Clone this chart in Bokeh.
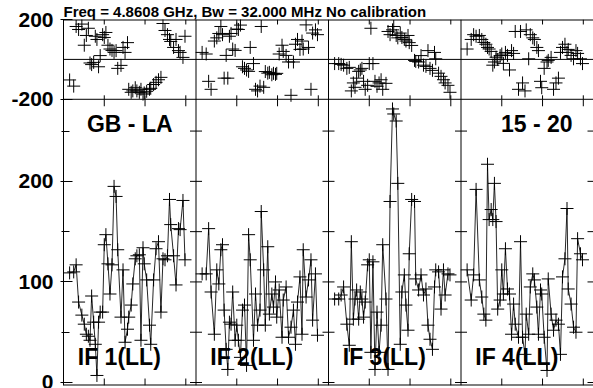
from bokeh.plotting import figure
from bokeh.models import Range1d, FixedTicker, Span, Label
from bokeh.embed import file_html
from bokeh.resources import INLINE

# ---------------- data ----------------
title_text = "Freq = 4.8608 GHz, Bw = 32.000 MHz   No calibration"
baseline_label = "GB - LA"
time_range_label = "15 - 20"
if_labels = ["IF 1(LL)", "IF 2(LL)", "IF 3(LL)", "IF 4(LL)"]

# observation times (hours) shared by all IFs
time_h = [0.15, 0.25, 0.31, 0.37, 0.45, 0.51, 0.56, 0.61, 0.65, 0.69, 0.74, 0.78,
          0.82, 0.86, 0.90, 0.96, 1.00, 1.04, 1.09, 1.14, 1.19, 1.24, 1.29, 1.33,
          1.41, 1.46, 1.51, 1.57, 1.60, 1.66, 1.70, 1.76, 1.80, 1.86, 1.90, 1.95,
          1.98, 2.04, 2.11, 2.14, 2.21, 2.27, 2.33, 2.39, 2.44, 2.49, 2.55, 2.60,
          2.63, 2.70, 2.76, 2.82, 2.86, 2.93, 2.98]

amp_if1 = [109, 110, 117, 80, 67, 58, 48, 46, 42, 86, 60, 38, 7, 60, 70, 70, 137, 147,
           118, 88, 117, 195, 185, 132, 65, 112, 40, 53, 65, 77, 98, 123, 126, 127, 42,
           134, 118, 102, 57, 38, 102, 133, 140, 70, 123, 122, 126, 182, 157, 126, 97,
           153, 152, 181, 122]
amp_if2 = [108, 108, 153, 90, 48, 112, 98, 132, 137, 72, 33, 13, 60, 58, 90, 42, 57, 42,
           25, 72, 77, 17, 147, 122, 42, 88, 57, 72, 170, 112, 57, 135, 68, 88, 75, 100,
           65, 92, 45, 82, 95, 45, 55, 72, 38, 80, 105, 48, 132, 85, 102, 122, 62, 108, 47]
amp_if3 = [83, 83, 87, 95, 58, 37, 140, 63, 83, 92, 63, 90, 83, 65, 80, 117, 122, 30,
           120, 13, 70, 30, 57, 137, 83, 13, 180, 272, 267, 260, 198, 38, 90, 107, 77, 52,
           128, 182, 180, 103, 92, 107, 87, 93, 57, 43, 33, 95, 112, 110, 73, 112, 87, 108, 107]
amp_if4 = [112, 82, 107, 192, 102, 85, 68, 62, 217, 162, 172, 162, 198, 160, 73, 82, 112,
           88, 133, 93, 88, 48, 78, 58, 45, 140, 45, 28, 68, 48, 95, 108, 102, 75, 48, 92,
           88, 45, 12, 103, 68, 52, 62, 58, 28, 105, 123, 173, 93, 78, 55, 50, 143, 128, 122]

phase_if1 = [-103, -134, 165, 150, 177, 71, 120, 156, -18, -26, -15, 116, 100, -37, 19,
             124, 110, 135, 71, 52, 45, 35, 44, -45, -30, 60, 35, 84, -150, -165, -158,
             -142, -158, -165, -150, -174, -168, -160, -150, -145, -126, -115, -102, -90,
             180, 145, 124, 100, 90, 60, 100, 44, 35, 10, 116]
phase_if2 = [35, 27, -110, -150, 92, 108, 130, 165, 124, -94, 20, -94, 116, 130, 52, 45,
             152, 150, 172, -37, -45, -53, -60, 60, -21, -150, -158, -134, 165, -140, -61,
             -69, -65, -77, -70, -75, -70, 27, 71, 40, 20, -13, -180, -13, 76, 100, 50, 92,
             52, 173, 60, -150, 132, 148, 124]
phase_if3 = [-21, -21, -25, -29, -45, -40, -158, -118, -140, -94, -60, -53, -45, -110,
             -150, -130, -21, 156, -21, -110, -135, -118, -102, -150, -120, 140, 124, 148,
             165, 120, 108, 132, 110, 100, 92, 120, 84, 70, -5, -10, -13, 19, -29, -35, 44,
             -45, -55, 35, 3, -69, -85, -102, -118, -130, -165]
phase_if4 = [52, 100, 124, 116, 120, 100, 85, 76, 60, 52, 40, -29, -13, 11, 0, 19, 27, -20,
             35, 20, -53, 44, 30, 140, -150, 140, -118, -158, 148, 3, 124, 108, 100, 60, 44,
             -110, -142, -45, -13, -5, 10, -150, -118, -94, 35, 60, 76, 35, 50, 20, 3, 44,
             30, 3, -21]

amp_ticks = [0, 100, 200]
amp_minor_ticks = [50, 150, 250]
phase_ticks = [-200, 200]
time_ticks = [1, 2, 3]

amps = [amp_if1, amp_if2, amp_if3, amp_if4]
phases = [phase_if1, phase_if2, phase_if3, phase_if4]

# ---------------- layout ----------------
FONT = "Liberation Sans"
COL_W = 3.25                      # hours per IF column
N_COL = 4
W, H = 593, 388
B_LEFT, B_TOP, B_BOTTOM = 63, 18, 3
FRAME_W, FRAME_H = W - B_LEFT, H - B_TOP - B_BOTTOM
PX_PER_AMP = 1.0085
AMP_LO = -B_BOTTOM / PX_PER_AMP + 0.0
AMP_DIV = 281.6                   # amplitude at the phase/amplitude divider
AMP_HI = AMP_LO + FRAME_H / PX_PER_AMP
PH_HI = 200.0
ph_per_amp = 400.0 / (AMP_HI - AMP_DIV)
PH_LO = -200.0 - (AMP_DIV - AMP_LO) * ph_per_amp

hr_per_px = N_COL * COL_W / FRAME_W
amp_per_px = (AMP_HI - AMP_LO) / FRAME_H

p = figure(width=W, height=H,
           x_range=Range1d(0, N_COL * COL_W), y_range=Range1d(AMP_LO, AMP_HI),
           output_backend="svg", toolbar_location=None,
           x_axis_location=None, y_axis_location="left",
           min_border_left=B_LEFT, min_border_right=0, min_border_top=B_TOP,
           min_border_bottom=B_BOTTOM)
p.extra_y_ranges = {"phase": Range1d(PH_LO, PH_HI)}
p.grid.visible = False
p.outline_line_color = None
p.background_fill_color = "white"
p.border_fill_color = "white"

p.title.text = title_text
p.title.text_font = FONT
p.title.text_font_style = "bold"
p.title.text_font_size = "15px"
p.title.text_color = "black"
p.title.align = "left"
p.title.standoff = 0
p.title.offset = 0

# left axis: amplitude ticks + phase ticks placed at their amplitude-equivalent positions
ph_tick_pos = [AMP_DIV + (v + 200.0) / ph_per_amp for v in phase_ticks]
ax = p.yaxis[0]
ax.ticker = FixedTicker(ticks=amp_ticks + ph_tick_pos, minor_ticks=amp_minor_ticks)
ax.major_label_overrides = {pos: str(v) for pos, v in zip(ph_tick_pos, phase_ticks)}
ax.major_label_text_font = FONT
ax.major_label_text_font_style = "bold"
ax.major_label_text_font_size = "21px"
ax.major_label_text_color = "black"
ax.major_label_standoff = 7
ax.major_tick_in = 9
ax.major_tick_out = 3
ax.minor_tick_in = 6
ax.minor_tick_out = 2
ax.axis_line_color = "black"
ax.major_tick_line_color = "black"
ax.minor_tick_line_color = "black"

# frame edges and panel dividers
for loc in (AMP_LO, AMP_HI):
    p.add_layout(Span(location=loc, dimension="width", line_color="black", line_width=2))
p.add_layout(Span(location=AMP_DIV, dimension="width", line_color="black", line_width=1))
p.add_layout(Span(location=0, dimension="width", y_range_name="phase",
                  line_color="black", line_width=1))
for k in range(1, N_COL):
    p.add_layout(Span(location=k * COL_W, dimension="height", line_color="black", line_width=1))

# tick marks on the column dividers and the right edge
sx0, sy0, sx1, sy1 = [], [], [], []
dx = 6 * hr_per_px
for k in range(1, N_COL + 1):
    xc = k * COL_W
    for a in amp_ticks + amp_minor_ticks:
        sx0.append(xc - dx)
        sx1.append(xc + dx if k < N_COL else xc)
        sy0.append(a)
        sy1.append(a)
# time ticks
for k in range(N_COL):
    for t in time_ticks:
        xc = k * COL_W + t
        for y0, hpx in [(AMP_LO, 7), (AMP_DIV, -7), (AMP_DIV, 4), (AMP_HI, -5)]:
            sx0.append(xc)
            sx1.append(xc)
            sy0.append(y0)
            sy1.append(y0 + hpx * amp_per_px)
p.segment(sx0, sy0, sx1, sy1, line_color="black", line_width=1)

# data
for k in range(N_COL):
    xs = [k * COL_W + t for t in time_h]
    p.line(xs, amps[k], line_color="black", line_width=1, line_alpha=0.85)
    p.scatter(xs, amps[k], marker="cross", size=13, line_color="black", line_width=1)
    p.scatter(xs, phases[k], y_range_name="phase", marker="cross", size=13,
              line_color="black", line_width=1)
    p.add_layout(Label(x=k * COL_W + 0.35, y=25, text=if_labels[k],
                       text_font=FONT, text_font_style="bold", text_font_size="23px",
                       text_baseline="middle", text_align="left", text_color="black"))

p.add_layout(Label(x=COL_W / 2, y=257, text=baseline_label, text_font=FONT,
                   text_font_style="bold", text_font_size="23px",
                   text_baseline="middle", text_align="center", text_color="black"))
p.add_layout(Label(x=3 * COL_W + 1.86, y=257, text=time_range_label, text_font=FONT,
                   text_font_style="bold", text_font_size="23px",
                   text_baseline="middle", text_align="center", text_color="black"))

open("out.html", "w").write(file_html(p, INLINE))
